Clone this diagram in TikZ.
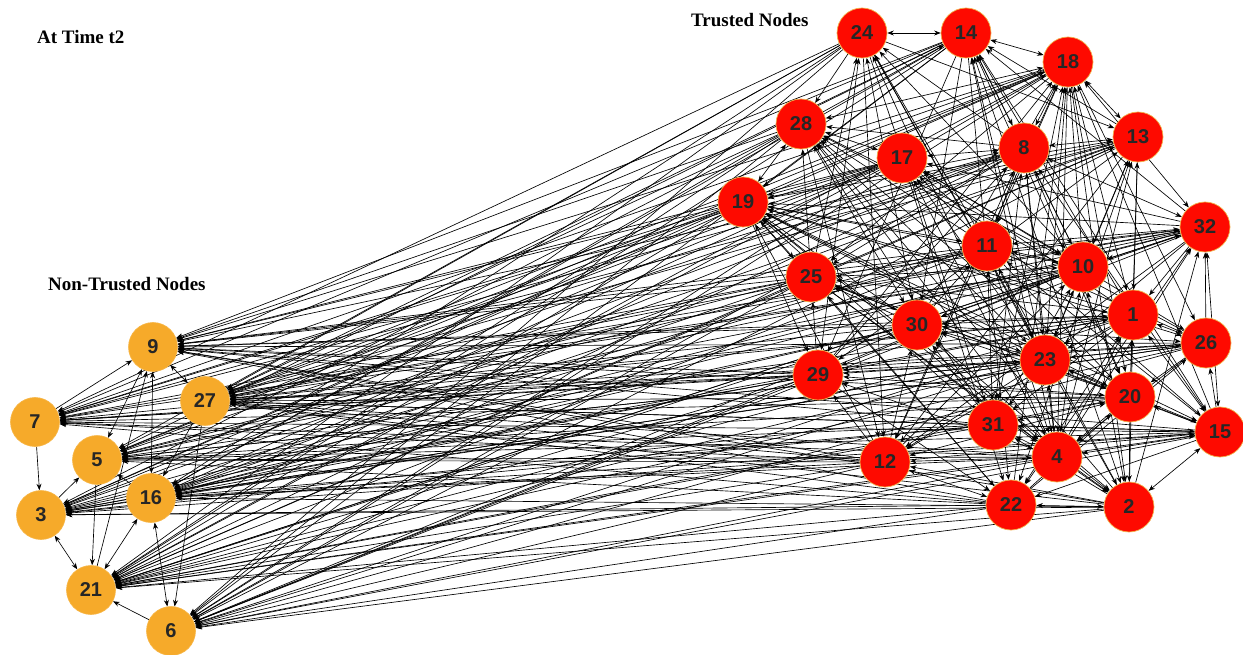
\documentclass[tikz,border=0pt]{standalone}
\usepackage{fontspec}
\setmainfont{Liberation Serif}
\newfontfamily\labelfont{Liberation Sans}
\usetikzlibrary{arrows.meta,backgrounds}
\definecolor{amber}{HTML}{F6AA2A}
\definecolor{redfill}{HTML}{FE0A00}
\definecolor{redrim}{HTML}{F2B04A}
\tikzset{
  amberball/.style={circle, fill=amber, draw=amber!85!white, line width=0.6pt,
    minimum size=49pt, inner sep=0pt, font=\labelfont\bfseries\fontsize{20}{20}\selectfont, text=black!85},
  redball/.style={circle, fill=redfill, draw=redrim, line width=0.7pt,
    minimum size=50pt, inner sep=0pt, font=\labelfont\bfseries\fontsize{20}{20}\selectfont, text=black!85},
  link/.style={draw=black, line width=0.65pt},
  caption/.style={font=\bfseries\fontsize{19}{19}\selectfont, anchor=west, inner sep=0pt},
  >={Stealth[length=6.5pt,width=5pt]}
}
\begin{document}
\begin{tikzpicture}[x=1pt,y=-1pt]
\useasboundingbox (0,0) rectangle (1243,655);

% captions
\node[caption] (ttime) at (37,37) {At Time t2};
\node[caption] (tnon) at (48,284) {Non-Trusted Nodes};
\node[caption] (ttrust) at (691,20) {Trusted Nodes};

% non-trusted nodes
\node[amberball] (n9)  at (153,347) {9};
\node[amberball] (n27) at (205,401) {27};
\node[amberball] (n7)  at (35,422) {7};
\node[amberball] (n5)  at (97,460) {5};
\node[amberball] (n16) at (151,498) {16};
\node[amberball] (n3)  at (41,515) {3};
\node[amberball] (n21) at (91,590) {21};
\node[amberball] (n6)  at (171,631) {6};

% trusted nodes
\node[redball] (n24) at (862,33) {24};
\node[redball] (n14) at (966,33) {14};
\node[redball] (n18) at (1068,62) {18};
\node[redball] (n28) at (801,124) {28};
\node[redball] (n17) at (902,158) {17};
\node[redball] (n8)  at (1024,148) {8};
\node[redball] (n13) at (1138,137) {13};
\node[redball] (n19) at (743,202) {19};
\node[redball] (n11) at (987,246) {11};
\node[redball] (n32) at (1205,227) {32};
\node[redball] (n10) at (1083,267) {10};
\node[redball] (n25) at (811,277) {25};
\node[redball] (n1)  at (1133,315) {1};
\node[redball] (n30) at (917,325) {30};
\node[redball] (n26) at (1206,343) {26};
\node[redball] (n23) at (1045,360) {23};
\node[redball] (n29) at (818,375) {29};
\node[redball] (n20) at (1130,397) {20};
\node[redball] (n31) at (993,425) {31};
\node[redball] (n15) at (1220,432) {15};
\node[redball] (n4)  at (1057,457) {4};
\node[redball] (n12) at (885,462) {12};
\node[redball] (n22) at (1011,505) {22};
\node[redball] (n2)  at (1129,507) {2};

\def\trustedlist{24,14,18,28,17,8,13,19,11,32,10,25,1,30,26,23,29,20,31,15,4,12,22,2}
\def\untrustedlist{9,27,7,5,16,3,21,6}

\begin{scope}[on background layer]
  % links among the trusted nodes
  \foreach \a [count=\i] in \trustedlist {
    \foreach \b [count=\j] in \trustedlist {
      \ifnum\j>\i
        \pgfmathtruncatemacro\k{mod(\i*7+\j*11+\i*\j*3,10)}
        \ifnum\k<7
          \pgfmathtruncatemacro\d{mod(\i+2*\j,3)}
          \ifcase\d
            \draw[link,->] (n\a) -- (n\b);
          \or
            \draw[link,<-] (n\a) -- (n\b);
          \else
            \draw[link,<->] (n\a) -- (n\b);
          \fi
        \fi
      \fi
    }
  }
  % links from trusted to non-trusted nodes
  \foreach \a [count=\i] in \trustedlist {
    \foreach \b [count=\j] in \untrustedlist {
      \pgfmathtruncatemacro\k{mod(\i*3+\j*5+\i*\j,10)}
      \ifnum\k<8
        \draw[link,->] (n\a) -- (n\b);
      \fi
    }
  }
  % links among the non-trusted nodes
  \draw[link,->] (n7) -- (n9);
  \draw[link,->] (n7) -- (n3);
  \draw[link,<->] (n9) -- (n27);
  \draw[link,<->] (n5) -- (n9);
  \draw[link,<->] (n16) -- (n9);
  \draw[link,->] (n21) -- (n9);
  \draw[link,->] (n3) -- (n5);
  \draw[link,->] (n5) -- (n21);
  \draw[link,->] (n16) -- (n5);
  \draw[link,<->] (n16) -- (n21);
  \draw[link,<->] (n3) -- (n21);
  \draw[link,<->] (n16) -- (n6);
  \draw[link,->] (n27) -- (n6);
  \draw[link,->] (n27) -- (n16);
  \draw[link,->] (n6) -- (n21);
\end{scope}
\end{tikzpicture}
\end{document}
